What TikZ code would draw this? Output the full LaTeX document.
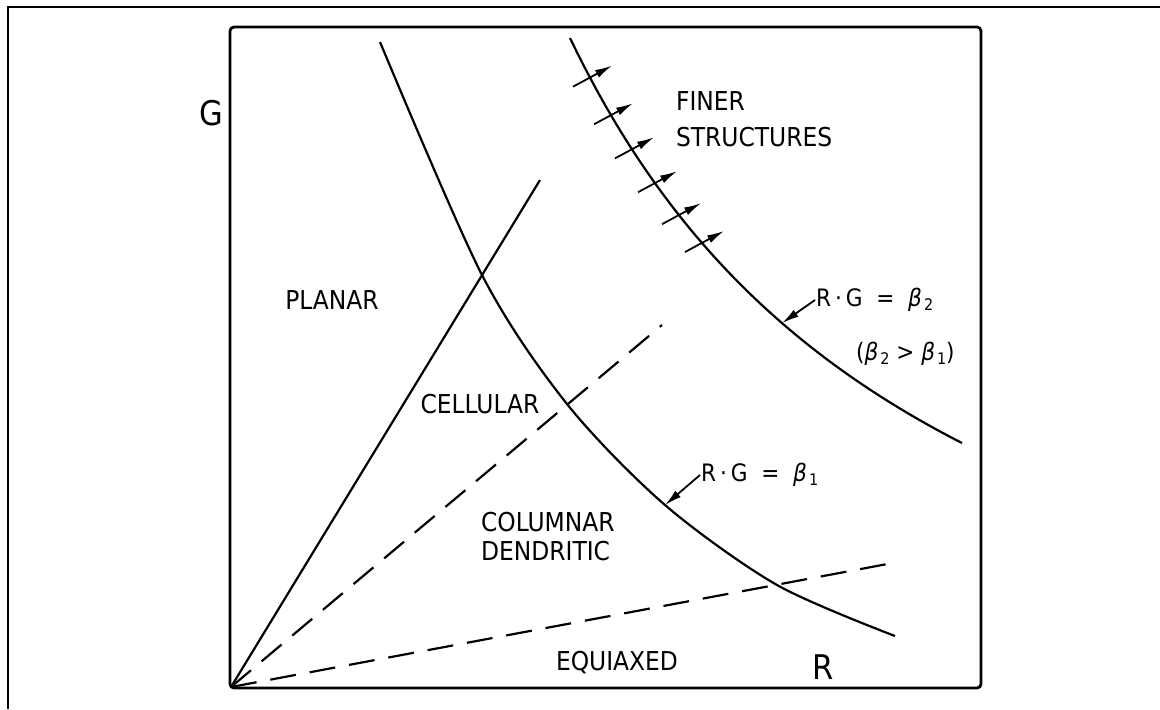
\documentclass[tikz,border=0pt]{standalone}
\usepackage{fontspec}
\setmainfont{DejaVu Sans Condensed}
\usetikzlibrary{arrows.meta}
\newcommand{\betasub}[1]{{\itshape β}\kern1pt\raisebox{-2pt}{\footnotesize #1}}
\begin{document}
\begin{tikzpicture}[x=0.5pt, y=-0.5pt, line width=1.1pt,
		regionlbl/.style={font=\fontsize{13}{15}\selectfont, inner sep=0pt},
		axislbl/.style={font=\fontsize{17}{19}\selectfont, inner sep=0pt},
		eqnlbl/.style={font=\fontsize{12}{14}\selectfont, inner sep=0pt, anchor=west},
		bounddash/.style={dash pattern=on 13pt off 7pt},
		growarrow/.style={-{Latex[length=8.5pt,width=4.2pt]}, line width=0.9pt}]
		\useasboundingbox (0,0) rectangle (1160,709);
		% page frame and axes box
		\draw[line width=1.3pt] (8,709) -- (8,7) -- (1160,7);
		\draw[line width=1.4pt, rounded corners=2pt] (230,27) rectangle (981,688);
		
		\coordinate (origin) at (231,687);
		\coordinate (planarend) at (540,180);
		\coordinate (cellend) at (662,325);
		\coordinate (colend) at (898,562);
		\draw (origin) -- (planarend);
		\draw[bounddash] (origin) -- (cellend);
		\draw[bounddash] (origin) -- (colend);
		
		% R.G = const curves
		\draw plot[smooth] coordinates {(380,42) (482,275) (567,404) (665,505) (777,585) (895,636)};
		\draw plot[domain=570:962, samples=60] ({\x},{840.5-3087.22/((\x-185.3)/100)});
		\foreach \tx in {590,611,632,655,679,702} {
			\pgfmathsetmacro{\ty}{840.5-3087.22/((\tx-185.3)/100)}
			\draw[growarrow] (\tx-17,\ty+9) -- (\tx+22,\ty-12);
		}
		
		\node[axislbl] (gaxis) at (211,113) {G};
		\node[axislbl] (raxis) at (823,667) {R};
		\node[regionlbl] (planar) at (332,300) {PLANAR};
		\node[regionlbl] (cellular) at (480,404) {CELLULAR};
		\node[regionlbl, anchor=west] (columnar) at (480,522) {COLUMNAR};
		\node[regionlbl, anchor=west] (dendritic) at (480,551) {DENDRITIC};
		\node[regionlbl] (equiaxed) at (617,663) {EQUIAXED};
		\node[regionlbl, anchor=west] (finer) at (675,101) {FINER};
		\node[regionlbl, anchor=west] (structures) at (675,137) {STRUCTURES};
		
		\node[eqnlbl] (rgone) at (700,475) {R\kern2pt·\kern2pt G ~=~ \betasub{1}};
		\node[eqnlbl] (rgtwo) at (815,300) {R\kern2pt·\kern2pt G ~=~ \betasub{2}};
		\node[eqnlbl] (ineq) at (855,354) {(\betasub{2} > \betasub{1})};
		\coordinate (onone) at (665,505);
		\coordinate (ontwo) at (782,{840.5-3087.22/((782-185.3)/100)});
		\draw[growarrow] (rgone.west) -- (onone);
		\draw[growarrow] (rgtwo.west) -- (ontwo);
	\end{tikzpicture}
\end{document}
